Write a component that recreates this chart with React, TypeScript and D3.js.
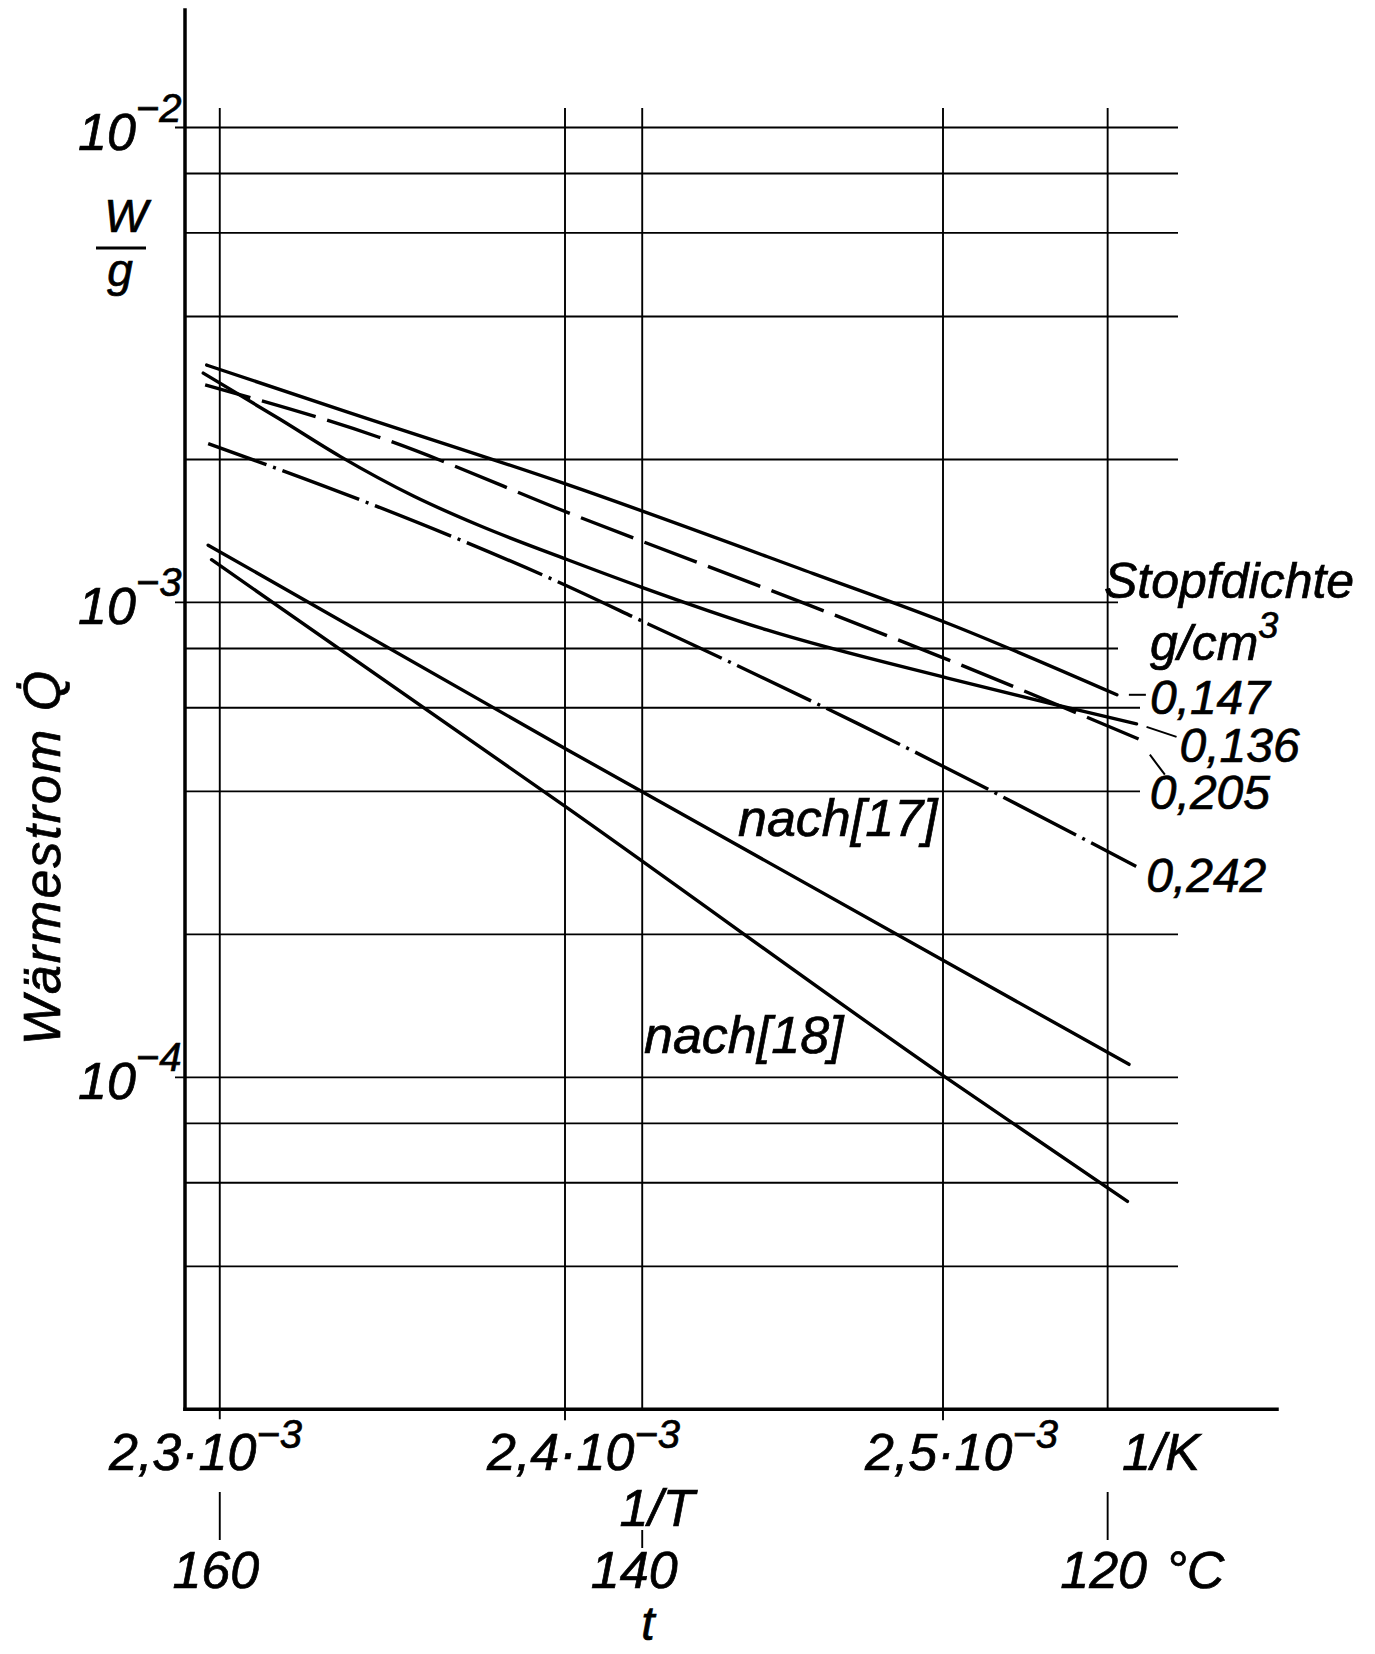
import React from "react";
import * as d3 from "d3";

// reciprocal temperature 1/T in 1/K, heat flow Q in W/g
const invT147 = [2.3052e-3, 2.3423e-3, 2.4007e-3, 2.4657e-3, 2.5012e-3, 2.546e-3];
const q147 = [3.16e-3, 2.52e-3, 1.77e-3, 1.15e-3, 9.04e-4, 6.39e-4];

const invT136 = [2.3043e-3, 2.3246e-3, 2.3405e-3, 2.3599e-3, 2.3775e-3, 2.4007e-3, 2.4198e-3, 2.4534e-3, 2.5012e-3, 2.5283e-3, 2.5512e-3];
const q136 = [3.04e-3, 2.43e-3, 2.03e-3, 1.675e-3, 1.45e-3, 1.23e-3, 1.08e-3, 8.75e-4, 6.93e-4, 6.13e-4, 5.55e-4];

const invT205 = [2.3048e-3, 2.3506e-3, 2.4031e-3, 2.4644e-3, 2.5019e-3, 2.5534e-3];
const q205 = [2.87e-3, 2.23e-3, 1.52e-3, 9.88e-4, 7.54e-4, 5.09e-4];

const invT242 = [2.3056e-3, 2.3462e-3, 2.3727e-3, 2.3976e-3, 2.422e-3, 2.4494e-3, 2.4772e-3, 2.5511e-3];
const q242 = [2.16e-3, 1.64e-3, 1.35e-3, 1.11e-3, 9.01e-4, 7.12e-4, 5.57e-4, 2.78e-4];

const invTNach17 = [2.3056e-3, 2.4007e-3, 2.5492e-3];
const qNach17 = [1.32e-3, 4.89e-4, 1.065e-4];

const invTNach18 = [2.3065e-3, 2.4007e-3, 2.5011e-3, 2.5488e-3];
const qNach18 = [1.23e-3, 3.69e-4, 9.95e-5, 5.48e-5];

const yGridValues = [1e-2, 8e-3, 6e-3, 4e-3, 2e-3, 1e-3, 8e-4, 6e-4, 4e-4, 2e-4, 1e-4, 8e-5, 6e-5, 4e-5];
const yDecades = [1e-2, 1e-3, 1e-4];
const yDecadeExp = ["\u22122", "\u22123", "\u22124"];

const invTTicks = [2.3e-3, 2.4e-3, 2.5e-3];
const invTTickLabels = ["2,3", "2,4", "2,5"];
const tempTicks = [160, 140, 120];

const densityLabels = ["0,147", "0,136", "0,205", "0,242"];

const FONT = "'Liberation Sans', Arial, sans-serif";

export default function App() {
  const x = d3.scaleLinear().domain([2.3e-3, 2.5e-3]).range([187, 943]);
  const y = d3.scaleLog().domain([2e-5, 1e-2]).range([1409.3, 127.5]);
  const xAxisY = y(2e-5);
  const yAxisX = x(2.3e-3) - 2;
  const tx = (t: number) => x(1 / (t + 273.15));

  const mk = (xs: number[], qs: number[]) => xs.map((v, i) => [x(v), y(qs[i])] as [number, number]);
  const smooth = d3.line().curve(d3.curveMonotoneX);
  const straight = d3.line();

  const s147 = mk(invT147, q147);
  const s136 = mk(invT136, q136);
  const s205 = mk(invT205, q205);
  const s242 = mk(invT242, q242);
  const n17 = mk(invTNach17, qNach17);
  const n18 = mk(invTNach18, qNach18);

  // gridlines are cut short where the density labels sit
  const gridRight = (v: number) =>
    v <= 1.05e-3 && v >= 7.9e-4 ? 1118 : v <= 6.1e-4 && v >= 3.9e-4 ? 1140 : 1178;

  const ends = [s147, s136, s205, s242].map((s) => s[s.length - 1]);
  const labelOffsets = [
    [33, 19],
    [43, 38],
    [5, 67],
    [10, 26],
  ];

  const txt = {
    fontFamily: FONT,
    fontStyle: "italic" as const,
    fill: "#000",
    stroke: "#000",
    strokeWidth: 0.7,
  };

  return (
    <svg
      width={1375}
      height={1654}
      viewBox="0 0 1375 1654"
      style={{ position: "absolute", left: 0, top: 0, background: "#fff" }}
    >
      <rect width={1375} height={1654} fill="#fff" />
      {/* horizontal grid */}
      <g stroke="#000" strokeWidth={1.9}>
        {yGridValues.map((v) => (
          <line
            key={v}
            x1={yDecades.includes(v) ? yAxisX - 10 : yAxisX}
            x2={gridRight(v)}
            y1={y(v)}
            y2={y(v)}
          />
        ))}
        {/* vertical grid: 1/T marks and temperature lines */}
        {invTTicks.slice(1).map((v) => (
          <line key={v} x1={x(v)} x2={x(v)} y1={108} y2={xAxisY + 11} />
        ))}
        {tempTicks.map((t) => (
          <line key={t} x1={tx(t)} x2={tx(t)} y1={108} y2={t === 160 ? xAxisY + 10 : xAxisY} />
        ))}
      </g>

      {/* axes */}
      <g stroke="#000" strokeWidth={3.5} strokeLinecap="square">
        <line x1={yAxisX} x2={yAxisX} y1={10} y2={xAxisY} />
        <line x1={yAxisX} x2={1277} y1={xAxisY} y2={xAxisY} />
      </g>

      {/* curves */}
      <g fill="none" stroke="#000" strokeWidth={3.4}>
        <path d={smooth(s147) ?? ""} strokeLinecap="round" />
        <path d={smooth(s136) ?? ""} strokeLinecap="round" />
        <path d={smooth(s205) ?? ""} strokeDasharray="56 12" strokeDashoffset={9} />
        <path d={smooth(s242) ?? ""} strokeDasharray="82 7 3 7" strokeDashoffset={20} />
        <path d={straight(n17) ?? ""} strokeLinecap="round" />
        <path d={smooth(n18) ?? ""} strokeLinecap="round" />
      </g>

      {/* label leaders */}
      <g stroke="#000" strokeWidth={2}>
        <line x1={ends[0][0] + 12} x2={ends[0][0] + 29} y1={ends[0][1]} y2={ends[0][1]} />
        <line x1={ends[1][0] + 10} x2={ends[1][0] + 40} y1={ends[1][1] + 3} y2={ends[1][1] + 13} />
        <line x1={ends[2][0] + 5} x2={ends[2][0] + 20} y1={ends[2][1] + 13} y2={ends[2][1] + 33} />
      </g>

      <g {...txt} fontSize={52}>
        {densityLabels.map((l, i) => (
          <text key={l} x={ends[i][0] + labelOffsets[i][0]} y={ends[i][1] + labelOffsets[i][1]} fontSize={48}>
            {l}
          </text>
        ))}
        <text x={1104} y={598} fontSize={50}>Stopfdichte</text>
        <text x={1150} y={660} fontSize={50}>
          g/cm<tspan dy={-22} fontSize={36}>3</tspan>
        </text>
        <text x={738} y={836}>nach[17]</text>
        <text x={644} y={1053}>nach[18]</text>

        {/* y decade labels */}
        {yDecades.map((v, i) => (
          <text key={v} x={78} y={y(v) + 22}>
            10<tspan dy={-28} fontSize={40}>{yDecadeExp[i]}</tspan>
          </text>
        ))}

        {/* unit W/g */}
        <text x={126} y={232} textAnchor="middle" fontSize={46}>W</text>
        <text x={120} y={286} textAnchor="middle" fontSize={46}>g</text>

        {/* y title */}
        <text transform="translate(60,857) rotate(-90)" textAnchor="middle" letterSpacing={2}>
          Wärmestrom Q̇
        </text>

        {/* 1/T tick labels */}
        {invTTicks.map((v, i) => (
          <text key={v} x={x(v) - 78} y={1470}>
            {invTTickLabels[i]}·10<tspan dy={-22} fontSize={40}>{"\u22123"}</tspan>
          </text>
        ))}
        <text x={1122} y={1470}>1/K</text>
        <text x={657} y={1526} textAnchor="middle">1/T</text>

        {/* temperature labels */}
        {tempTicks.map((t) => (
          <text key={t} x={tx(t) - (t === 140 ? 8 : 4)} y={1588} textAnchor="middle">
            {t}
          </text>
        ))}
        <text x={1166} y={1588}>°C</text>
        <text x={648} y={1640} textAnchor="middle" fontSize={48}>t</text>
      </g>

      <line x1={96} x2={146} y1={248} y2={248} stroke="#000" strokeWidth={3} />

      {/* temperature ticks */}
      <g stroke="#000" strokeWidth={1.9}>
        {tempTicks.map((t) => (
          <line key={t} x1={tx(t)} x2={tx(t)} y1={t === 140 ? 1530 : 1492} y2={t === 140 ? 1548 : 1540} />
        ))}
      </g>
    </svg>
  );
}
